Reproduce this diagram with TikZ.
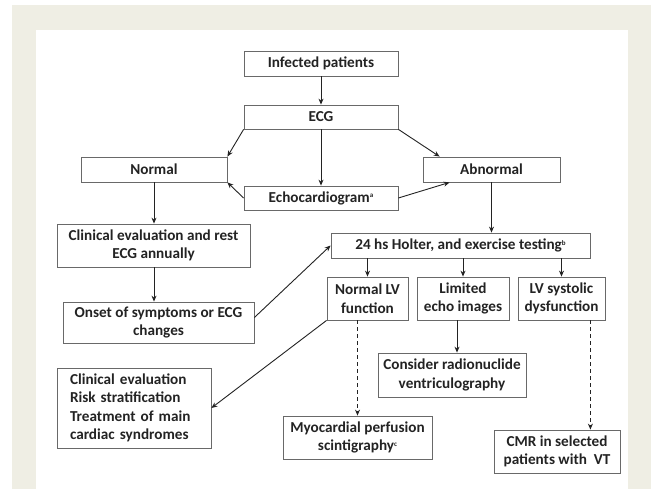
\documentclass[tikz,border=0pt]{standalone}
\usepackage{fontspec}
\setmainfont{Carlito}
\usetikzlibrary{calc}
\usetikzlibrary{arrows.meta}
\definecolor{cream}{RGB}{239,238,228}
\definecolor{boxline}{RGB}{105,105,105}
\definecolor{ink}{RGB}{35,35,35}
\newcommand{\fnmark}[1]{\raisebox{4.5pt}{\fontsize{7}{7}\selectfont #1}}

\begin{document}
\begin{tikzpicture}[x=1pt,y=-1pt,
    box/.style={draw=boxline,line width=0.8pt,fill=white,text=ink,align=center,inner sep=0pt,
      font=\fontsize{15.2}{18.5}\selectfont\bfseries},
    arr/.style={draw=ink,line width=0.9pt,-{Stealth[length=6pt,width=5pt]}},
    dasharr/.style={arr,dash pattern=on 4pt off 3pt}]
    \useasboundingbox (0,0) rectangle (654,489);
    \fill[cream] (12,5) rectangle (651,489);
    \fill[white] (36,30) rectangle (628,489);
    % first row
    \node[box,minimum width=154pt,minimum height=25pt] (inf) at (321,63.5) {Infected patients};
    \node[box,minimum width=154pt,minimum height=24pt] (ecg) at (321,117) {ECG};
    \node[box,minimum width=146pt,minimum height=25pt] (normal) at (154,169.5) {Normal};
    \node[box,minimum width=137pt,minimum height=25pt] (abn) at (491.5,169.5) {Abnormal};
    \node[box,minimum width=154pt,minimum height=24pt] (echo) at (321,198) {Echocardiogram\fnmark{a}};
    % left branch
    \node[box,minimum width=193pt,minimum height=43pt] (clin) at (153.5,245.5) {Clinical evaluation and rest\\ECG annually};
    \node[box,minimum width=191pt,minimum height=41pt] (onset) at (158.5,322.5) {Onset of symptoms or ECG\\changes};
    \node[box,align=left,text width=128pt,inner xsep=13pt,minimum height=80pt] (bullet) at (134,408)
      {Clinical evaluation\\Risk stratification\\Treatment of main\\cardiac syndromes};
    % right branch
    \node[box,minimum width=259pt,minimum height=25pt] (holter) at (460.5,245.5) {24 hs Holter, and exercise testing\fnmark{b}};
    \node[box,minimum width=81pt,minimum height=43pt] (nlv) at (367.5,298.5) {Normal LV\\function};
    \node[box,minimum width=92pt,minimum height=43pt] (lim) at (463,298.5) {Limited\\echo images};
    \node[box,minimum width=87pt,minimum height=43pt] (lvs) at (561.5,298.5) {LV systolic\\dysfunction};
    \node[box,minimum width=148pt,minimum height=44pt] (cons) at (452,375) {Consider radionuclide\\ventriculography};
    \node[box,minimum width=149pt,minimum height=43pt] (myo) at (357.5,437.5) {Myocardial perfusion\\scintigraphy\fnmark{c}};
    \node[box,minimum width=126pt,minimum height=43pt] (cmr) at (557,451.5) {CMR in selected\\patients with~~VT};

    \coordinate (abnin) at ($(abn.north west)+(17,0)$);
    \coordinate (echoin) at ($(abn.south west)+(27,0)$);
    \coordinate (onsetout) at ($(onset.east)+(0,-5)$);
    \coordinate (limout) at ($(lim.south)+(-6,0)$);
    \coordinate (lvsout) at ($(lvs.south east)+(-15,0)$);

    \draw[arr] (inf) -- (ecg);
    \draw[arr] (ecg.south west) -- (normal.north east);
    \draw[arr] (ecg.south east) -- (abnin);
    \draw[arr] (ecg) -- (echo);
    \draw[arr] (echo.west) -- (normal.south east);
    \draw[arr] (echo.east) -- (echoin);
    \draw[arr] (normal.south) -- (normal.south |- clin.north);
    \draw[arr] (normal.south |- clin.south) -- (normal.south |- onset.north);
    \draw[arr] (onsetout) -- (holter.west);
    \draw[arr] (abn.south) -- (abn.south |- holter.north);
    \foreach \n in {nlv,lim,lvs}
      \draw[arr] (\n.north |- holter.south) -- (\n.north);
    \draw[arr] (limout) -- (limout |- cons.north);
    \draw[arr] (nlv.south west) -- (bullet.east);
    \draw[dasharr] (myo.north |- nlv.south) -- (myo.north);
    \draw[dasharr] (lvsout) -- (lvsout |- cmr.north);
\end{tikzpicture}
\end{document}
